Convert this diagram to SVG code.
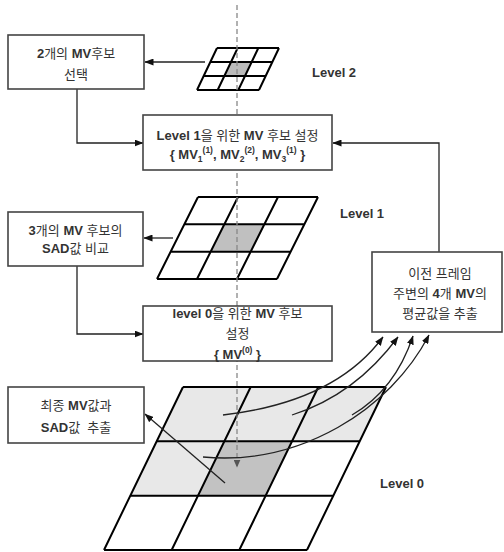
<svg xmlns="http://www.w3.org/2000/svg" width="504" height="552" viewBox="0 0 504 552">
<style>
.box{fill:#fff;stroke:#444;stroke-width:1.6}
.grid{fill:none;stroke:#000;stroke-width:2;stroke-linejoin:miter}
.con{fill:none;stroke:#222;stroke-width:1.3}
.t{font-family:"Liberation Sans","Noto Sans CJK KR",sans-serif;font-size:13px;fill:#333;text-anchor:middle}
.b{font-weight:bold}
.lvl{font-family:"Liberation Sans",sans-serif;font-size:13px;font-weight:bold;fill:#333}
.sm{font-size:8.5px}
</style>
<defs>
<marker id="ah" markerWidth="9" markerHeight="7" refX="8.5" refY="3.5" orient="auto" markerUnits="userSpaceOnUse">
<path d="M0,0 L9,3.5 L0,7 Z" fill="#111"/>
</marker>
<marker id="ahd" markerWidth="8" markerHeight="7" refX="7.5" refY="3.5" orient="auto" markerUnits="userSpaceOnUse">
<path d="M0,0 L8,3.5 L0,7 Z" fill="#555"/>
</marker>
</defs>
<rect width="504" height="552" fill="#fff"/>

<g id="grid-level2">
<polygon points="231,62 251.67,62 245,76 224.33,76" fill="#bbb"/>
<path class="grid" d="M217,48 H279 M210.33,62 H272.33 M203.67,76 H265.67 M197,90 H259 M217,48 L197,90 M237.67,48 L217.67,90 M258.33,48 L238.33,90 M279,48 L259,90"/>
</g>
<g id="grid-level1">
<polygon points="224.33,224.33 264.33,224.33 250.67,251.67 210.67,251.67" fill="#c0c0c0"/>
<path class="grid" d="M198,197 H318 M184.33,224.33 H304.33 M170.67,251.67 H290.67 M157,279 H277 M198,197 L157,279 M238,197 L197,279 M278,197 L237,279 M318,197 L277,279"/>
</g>
<g id="grid-level0">
<polygon points="183,387 386,387 359.67,441.33 156.67,441.33" fill="#e8e8e8"/>
<polygon points="156.67,441.33 224.33,441.33 198,495.67 130.33,495.67" fill="#e8e8e8"/>
<polygon points="224.33,441.33 292,441.33 265.67,495.67 198,495.67" fill="#c2c2c2"/>
<path class="grid" d="M104,550 H307 M183,387 L104,550 M250.67,387 L171.67,550 M318.33,387 L239.33,550 M386,387 L307,550"/>
<path class="grid" stroke-width="2.6" d="M183,387 H386 M156.67,441.33 H359.67 M130.33,495.67 H333.33"/>
</g>

<g id="connectors">
<path d="M237,5 V467" fill="none" stroke="#888" stroke-width="1.3" stroke-dasharray="5,3" marker-end="url(#ahd)"/>
<path class="con" d="M205,62 H145" marker-end="url(#ah)"/>
<path class="con" d="M77,89 V143 H143" marker-end="url(#ah)"/>
<path class="con" d="M439,252 V143 H333" marker-end="url(#ah)"/>
<path class="con" d="M173,238 H144" marker-end="url(#ah)"/>
<path class="con" d="M77,266 V334 H143" marker-end="url(#ah)"/>
<path class="con" d="M225,483 L145,414" marker-end="url(#ah)"/>
<path class="con" d="M223,415 Q335,402 383,337" marker-end="url(#ah)"/>
<path class="con" d="M292,415 Q355,395 398,337" marker-end="url(#ah)"/>
<path class="con" d="M352,415 Q395,390 413,336" marker-end="url(#ah)"/>
<path class="con" d="M203,457 C300,466 390,410 429,335" marker-end="url(#ah)"/>
</g>

<g id="node-select2">
<rect class="box" x="8" y="35" width="136" height="54"/>
<text class="t" x="76" y="58"><tspan class="b">2</tspan>개의 <tspan class="b">MV</tspan>후보</text>
<text class="t" x="76" y="79">선택</text>
</g>
<g id="node-level1cand">
<rect class="box" x="143" y="115" width="189" height="55"/>
<text class="t" x="237.5" y="140"><tspan class="b">Level 1</tspan>을 위한 <tspan class="b">MV</tspan> 후보 설정</text>
<text class="t b" x="237.5" y="159">{ MV<tspan class="sm" dy="3">1</tspan><tspan class="sm" dy="-9">(1)</tspan><tspan dy="6">, MV</tspan><tspan class="sm" dy="3">2</tspan><tspan class="sm" dy="-9">(2)</tspan><tspan dy="6">, MV</tspan><tspan class="sm" dy="3">3</tspan><tspan class="sm" dy="-9">(1)</tspan><tspan dy="6"> }</tspan></text>
</g>
<g id="node-sad3">
<rect class="box" x="8" y="212" width="135" height="54"/>
<text class="t" x="75.5" y="235"><tspan class="b">3</tspan>개의 <tspan class="b">MV</tspan> 후보의</text>
<text class="t" x="75.5" y="253"><tspan class="b">SAD</tspan>값 비교</text>
</g>
<g id="node-level0cand">
<rect class="box" x="143" y="306" width="189" height="55"/>
<text class="t" x="237.5" y="318"><tspan class="b">level 0</tspan>을 위한 <tspan class="b">MV</tspan> 후보</text>
<text class="t" x="237.5" y="338">설정</text>
<text class="t b" x="237.5" y="359">{ MV<tspan class="sm" dy="-6">(0)</tspan><tspan dy="6"> }</tspan></text>
</g>
<g id="node-prevframe">
<rect class="box" x="372" y="252" width="130" height="80"/>
<text class="t" x="440" y="278">이전 프레임</text>
<text class="t" x="440" y="298">주변의 <tspan class="b">4</tspan>개 <tspan class="b">MV</tspan>의</text>
<text class="t" x="440" y="318">평균값을 추출</text>
</g>
<g id="node-final">
<rect class="box" x="8" y="387" width="136" height="56"/>
<text class="t" x="76" y="410">최종 <tspan class="b">MV</tspan>값과</text>
<text class="t" x="76" y="432" xml:space="preserve"><tspan class="b">SAD</tspan>값  추출</text>
</g>
<g id="labels">
<text class="lvl" x="312" y="77">Level 2</text>
<text class="lvl" x="340" y="218">Level 1</text>
<text class="lvl" x="380" y="488">Level 0</text>
</g>
</svg>
